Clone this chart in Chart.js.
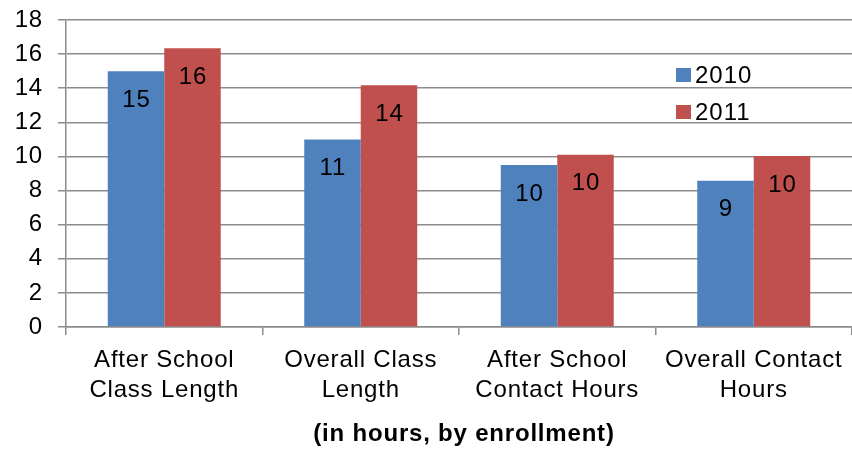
<!DOCTYPE html>
<html>
<head>
<meta charset="utf-8">
<script src="https://cdn.jsdelivr.net/npm/chart.js@4"></script>
<style>
  html, body { margin: 0; padding: 0; background: #ffffff; }
  #wrap { width: 852px; height: 451px; }
</style>
</head>
<body>
<div id="wrap"><canvas id="c" width="852" height="451"></canvas></div>
<script>
const categories = [
  ['After School', 'Class Length'],
  ['Overall Class', 'Length'],
  ['After School', 'Contact Hours'],
  ['Overall Contact', 'Hours']
];
const seriesNames = ['2010', '2011'];
const values2010 = [15.0, 11.0, 9.5, 8.58];
const values2011 = [16.34, 14.17, 10.1, 10.02];
const yTicks = [0, 2, 4, 6, 8, 10, 12, 14, 16, 18];
const axisTitle = '(in hours, by enrollment)';

const FONT = '"Liberation Sans", Arial, Helvetica, sans-serif';
const BLUE = '#4F81BD';
const RED = '#C0504D';
const GRID = '#8c8c8c';

const spacing = {
  id: 'spacing',
  beforeLayout(chart) { chart.ctx.letterSpacing = '0.8px'; },
  beforeDraw(chart) { chart.ctx.letterSpacing = '0.8px'; }
};

const barLabels = {
  id: 'barLabels',
  afterDatasetsDraw(chart) {
    const ctx = chart.ctx;
    ctx.save();
    ctx.letterSpacing = '1px';
    ctx.font = '24px ' + FONT;
    ctx.fillStyle = '#000';
    ctx.textAlign = 'center';
    ctx.textBaseline = 'middle';
    chart.data.datasets.forEach((ds, i) => {
      const meta = chart.getDatasetMeta(i);
      meta.data.forEach((bar, j) => {
        ctx.fillText(String(Math.round(ds.data[j])), bar.x + 0.5, bar.y + 29);
      });
    });
    ctx.restore();
  }
};

const customLegend = {
  id: 'customLegend',
  afterDraw(chart) {
    const ctx = chart.ctx;
    const area = chart.chartArea;
    ctx.save();
    ctx.letterSpacing = '1px';
    ctx.font = '24px ' + FONT;
    ctx.textAlign = 'left';
    ctx.textBaseline = 'middle';
    chart.data.datasets.forEach((ds, i) => {
      const x = area.right - 176;
      const cy = area.top + 55 + i * 37;
      ctx.fillStyle = ds.backgroundColor;
      ctx.fillRect(x, cy - 7, 15, 14);
      ctx.fillStyle = '#000';
      ctx.fillText(ds.label, x + 19, cy + 1);
    });
    // axis title
    ctx.letterSpacing = '0.8px';
    ctx.font = 'bold 24px ' + FONT;
    ctx.textAlign = 'center';
    ctx.textBaseline = 'alphabetic';
    ctx.fillText(axisTitle, 464, 441);
    ctx.restore();
  }
};

new Chart(document.getElementById('c'), {
  type: 'bar',
  data: {
    labels: categories,
    datasets: [
      { label: seriesNames[0], data: values2010, backgroundColor: BLUE, borderWidth: 0 },
      { label: seriesNames[1], data: values2011, backgroundColor: RED, borderWidth: 0 }
    ]
  },
  options: {
    responsive: false,
    animation: false,
    devicePixelRatio: 1,
    layout: { padding: { left: 10, right: 0, top: 20, bottom: 44 } },
    plugins: {
      legend: { display: false },
      tooltip: { enabled: false },
      title: { display: false }
    },
    datasets: {
      bar: { barPercentage: 1.0, categoryPercentage: 0.575 }
    },
    scales: {
      x: {
        afterFit(scale) {
          scale.height = 80;
          scale.paddingLeft = 0; scale.paddingRight = 0;
        },
        grid: {
          display: true,
          offset: true,
          drawOnChartArea: false,
          drawTicks: true,
          tickLength: 8,
          color: GRID,
          lineWidth: 1.5
        },
        border: { display: true, color: GRID, width: 1.5 },
        ticks: {
          color: '#000',
          padding: 10,
          maxRotation: 0,
          autoSkip: false,
          font: { family: FONT, size: 24, lineHeight: 1.25 }
        }
      },
      y: {
        min: 0,
        max: 18,
        afterFit(scale) {
          scale.width = 56;
          scale.paddingTop = 0; scale.paddingBottom = 0;
        },
        afterBuildTicks(scale) {
          scale.ticks = yTicks.map(v => ({ value: v }));
        },
        grid: {
          color: GRID,
          lineWidth: 1.5,
          drawTicks: true,
          tickLength: 8
        },
        border: { display: true, color: GRID, width: 1.5 },
        ticks: {
          color: '#000',
          padding: 15,
          font: { family: FONT, size: 24 }
        }
      }
    }
  },
  plugins: [spacing, barLabels, customLegend]
});
</script>
</body>
</html>
